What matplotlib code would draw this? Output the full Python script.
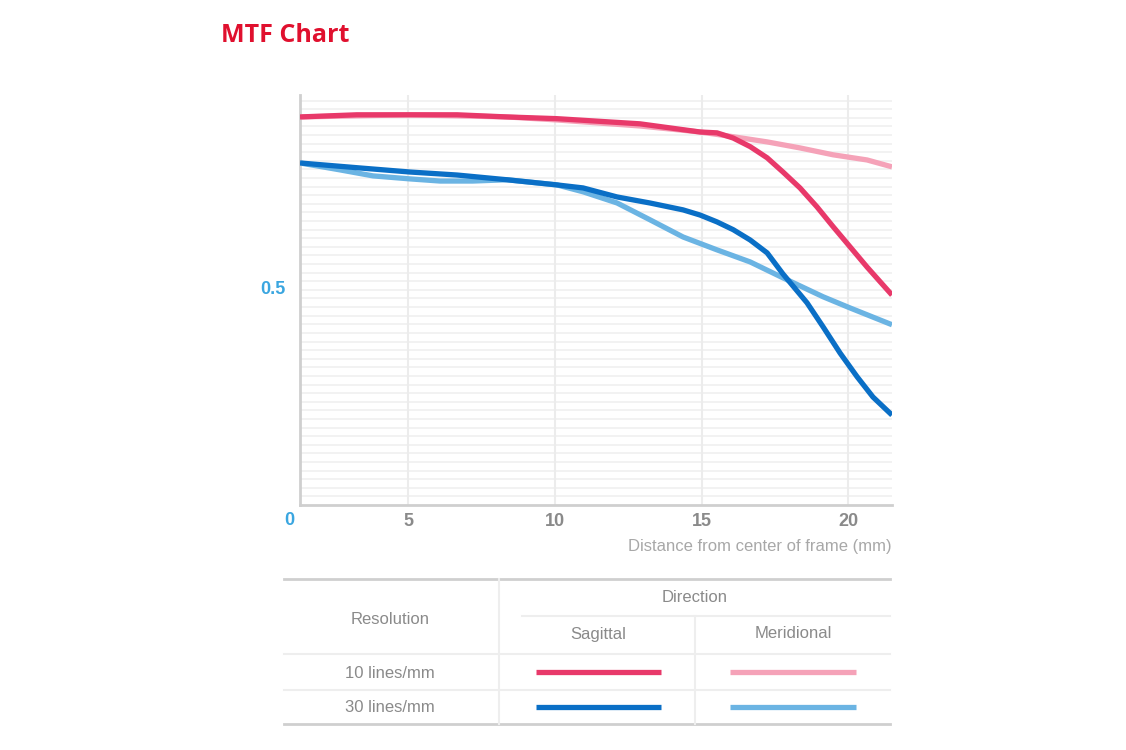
'''
MTF chart: contrast vs distance from frame centre, with a line-style key table
'''
import matplotlib
matplotlib.use('Agg')
import matplotlib.pyplot as plt
import numpy as np

# distance from centre of frame (mm) and MTF values
sag10_x = [1.3, 3.24, 5.05, 6.66, 8.36, 10.07, 12.9, 14.95, 15.53, 16.08, 16.66, 17.24,
           17.78, 18.36, 18.94, 19.49, 20.07, 20.65, 21.5]
sag10_y = [0.902, 0.907, 0.907, 0.907, 0.902, 0.898, 0.886, 0.867, 0.865, 0.853, 0.833, 0.807,
           0.774, 0.737, 0.693, 0.647, 0.600, 0.553, 0.488]

mer10_x = [1.3, 5.05, 8.36, 10.07, 12.9, 14.95, 16.08, 17.24, 18.36, 19.49, 20.65, 21.5]
mer10_y = [0.902, 0.907, 0.902, 0.895, 0.881, 0.867, 0.856, 0.844, 0.830, 0.814, 0.802, 0.786]

sag30_x = [1.3, 3.24, 5.05, 6.66, 8.36, 10.07, 10.96, 12.12, 13.24, 14.37, 14.95, 15.53, 16.08,
           16.66, 17.24, 17.78, 18.6, 19.15, 19.73, 20.31, 20.85, 21.5]
sag30_y = [0.795, 0.784, 0.774, 0.767, 0.756, 0.744, 0.737, 0.716, 0.702, 0.686, 0.674, 0.658, 0.640,
           0.616, 0.586, 0.537, 0.470, 0.414, 0.353, 0.298, 0.251, 0.209]

mer30_x = [1.3, 2.66, 3.79, 5.05, 6.08, 7.2, 8.36, 10.07, 10.96, 12.12, 13.24, 14.37, 15.53,
           16.66, 17.78, 19.15, 20.07, 21.5]
mer30_y = [0.795, 0.779, 0.765, 0.758, 0.753, 0.753, 0.756, 0.744, 0.728, 0.702, 0.663, 0.623, 0.593,
           0.565, 0.528, 0.484, 0.458, 0.419]

x_ticks = [5, 10, 15, 20]
resolutions = ['10 lines/mm', '30 lines/mm']
directions = ['Sagittal', 'Meridional']

C_SAG10 = '#e8396a'
C_MER10 = '#f5a2b8'
C_SAG30 = '#0a6fc6'
C_MER30 = '#6bb4e3'

FONT = ['Liberation Sans Narrow', 'Liberation Sans', 'DejaVu Sans']
plt.rcParams['font.family'] = FONT

fig = plt.figure(figsize=(11.26, 7.5), dpi=100)

# main chart
ax = fig.add_axes([300 / 1126, 1 - 505 / 750, 592 / 1126, 410 / 750])
ax.set_xlim(1.3, 21.5)
ax.set_ylim(0, 0.953)

for y in np.arange(0.02, 0.96, 0.02):
    ax.axhline(y, color='#f0f0f0', lw=1.2, zorder=0)
for x in x_ticks:
    ax.axvline(x, color='#ececec', lw=1.5, zorder=0)

style = dict(lw=3.8, solid_capstyle='butt', solid_joinstyle='round')
ax.plot(mer10_x, mer10_y, color=C_MER10, zorder=2, **style)
ax.plot(sag10_x, sag10_y, color=C_SAG10, zorder=3, **style)
ax.plot(mer30_x, mer30_y, color=C_MER30, zorder=2, **style)
ax.plot(sag30_x, sag30_y, color=C_SAG30, zorder=3, **style)

for side in ['top', 'right']:
    ax.spines[side].set_visible(False)
for side in ['left', 'bottom']:
    ax.spines[side].set_color('#cfcfcf')
    ax.spines[side].set_linewidth(2)

ax.set_xticks(x_ticks)
ax.set_xticklabels([str(t) for t in x_ticks], fontsize=13, color='#8a8a8a', fontweight='bold')
ax.set_yticks([])
ax.tick_params(axis='x', length=0, pad=6)

ax.text(-0.018, -0.038, '0', transform=ax.transAxes, ha='center', va='center',
        fontsize=13, color='#3aa6e0', fontweight='bold')
ax.text(-0.025, 0.5, '0.5', transform=ax.get_yaxis_transform(), ha='right', va='center',
        fontsize=13, color='#3aa6e0', fontweight='bold')
ax.text(1.0, -0.1, 'Distance from center of frame (mm)', transform=ax.transAxes,
        ha='right', va='center', fontsize=12, color='#a8a8a8')

fig.text(221 / 1126, 1 - 36 / 750, 'MTF Chart', ha='left', va='center', fontsize=18,
         color='#e0102e', fontweight='bold', family=['Open Sans', 'Lato', 'DejaVu Sans'])

# key table drawn in pixel coordinates
tb = fig.add_axes([0, 0, 1, 1])
tb.set_xlim(0, 1126)
tb.set_ylim(750, 0)
tb.axis('off')

tb.plot([284, 890], [579, 579], color='#cfcfcf', lw=2)
tb.plot([284, 890], [724, 724], color='#cfcfcf', lw=2)
tb.plot([284, 890], [654, 654], color='#eeeeee', lw=1.5)
tb.plot([284, 890], [690, 690], color='#eeeeee', lw=1.5)
tb.plot([522, 890], [616, 616], color='#eeeeee', lw=1.5)
tb.plot([499, 499], [579, 724], color='#eeeeee', lw=1.5)
tb.plot([695, 695], [616, 724], color='#eeeeee', lw=1.5)

txt = dict(ha='center', va='center', fontsize=12, color='#8a8a8a')
tb.text(390, 619, 'Resolution', **txt)
tb.text(695, 598, 'Direction', **txt)
tb.text(598, 634, directions[0], **txt)
tb.text(793, 634, directions[1], **txt)
tb.text(390, 673, resolutions[0], **txt)
tb.text(390, 708, resolutions[1], **txt)

tb.plot([536, 661], [672, 672], color=C_SAG10, lw=3.8, solid_capstyle='butt')
tb.plot([730, 856], [672, 672], color=C_MER10, lw=3.8, solid_capstyle='butt')
tb.plot([536, 661], [707, 707], color=C_SAG30, lw=3.8, solid_capstyle='butt')
tb.plot([730, 856], [707, 707], color=C_MER30, lw=3.8, solid_capstyle='butt')

fig.savefig('out.png', dpi=100, facecolor='white')
